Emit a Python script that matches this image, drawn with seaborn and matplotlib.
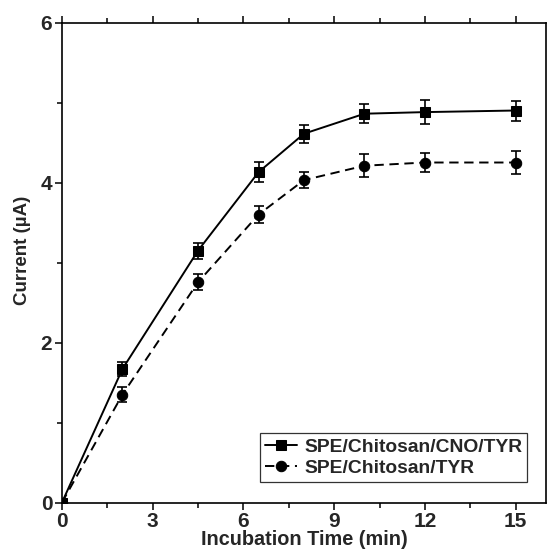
import numpy as np
import pandas as pd
import matplotlib
matplotlib.use("Agg")
import matplotlib.pyplot as plt
from matplotlib.ticker import MultipleLocator
import seaborn as sns

# Incubation time (min) and measured current (µA) with standard deviations
time_min = [0, 2, 4.5, 6.5, 8, 10, 12, 15]
cno_current = [0, 1.67, 3.15, 4.13, 4.61, 4.86, 4.88, 4.90]
cno_error = [0, 0.09, 0.10, 0.125, 0.115, 0.12, 0.15, 0.125]
plain_current = [0, 1.35, 2.755, 3.60, 4.03, 4.21, 4.25, 4.25]
plain_error = [0, 0.095, 0.10, 0.11, 0.10, 0.145, 0.12, 0.14]
series_names = ["SPE/Chitosan/CNO/TYR", "SPE/Chitosan/TYR"]

sns.set_theme(style="ticks")
plt.rcParams["font.family"] = ["Liberation Sans", "DejaVu Sans"]
plt.rcParams["font.weight"] = "bold"

df = pd.concat([
    pd.DataFrame({"time": time_min, "current": cno_current, "err": cno_error,
                  "electrode": series_names[0]}),
    pd.DataFrame({"time": time_min, "current": plain_current, "err": plain_error,
                  "electrode": series_names[1]}),
])

fig = plt.figure(figsize=(5.47, 5.57), dpi=100)
ax = fig.add_axes([0.1133, 0.0978, 0.8848, 0.8618])

sns.lineplot(data=df, x="time", y="current", style="electrode",
             markers={series_names[0]: "s", series_names[1]: "o"},
             dashes={series_names[0]: "", series_names[1]: (4.8, 2.9)},
             color="black", linewidth=1.4, markersize=7.5,
             markeredgecolor="black", ax=ax, legend=True)

for name, sub in df.groupby("electrode", sort=False):
    ax.errorbar(sub["time"], sub["current"], yerr=sub["err"], fmt="none",
                ecolor="black", elinewidth=1.2, capsize=3.5, capthick=1.2)

ax.set_xlim(0, 16)
ax.set_ylim(0, 6)
ax.xaxis.set_major_locator(MultipleLocator(3))
ax.xaxis.set_minor_locator(MultipleLocator(1.5))
ax.yaxis.set_major_locator(MultipleLocator(2))
ax.yaxis.set_minor_locator(MultipleLocator(1))

ax.tick_params(axis="both", which="both", direction="out", width=1.1,
               top=True, right=False, labelsize=15, pad=2, color="black")
ax.tick_params(which="major", length=5)
ax.tick_params(which="minor", length=3.5)
for lab in ax.get_xticklabels() + ax.get_yticklabels():
    lab.set_fontweight("bold")
for sp in ax.spines.values():
    sp.set_visible(True)
    sp.set_linewidth(1.2)
    sp.set_color("black")

ax.set_xlabel("Incubation Time (min)", fontsize=14.3, fontweight="bold", labelpad=-1)
ax.set_ylabel("Current (µA)", fontsize=13.5, fontweight="bold")
ax.yaxis.set_label_coords(-0.064, 0.525)

leg = ax.legend(loc="lower right", bbox_to_anchor=(0.961, 0.043),
                frameon=True, fancybox=False, edgecolor="black",
                prop={"size": 13.9, "weight": "bold"}, handlelength=1.7,
                handletextpad=0.35, borderpad=0.25, labelspacing=0.2,
                borderaxespad=0)
leg.get_frame().set_linewidth(0.9)

fig.savefig("out.png", dpi=100)
